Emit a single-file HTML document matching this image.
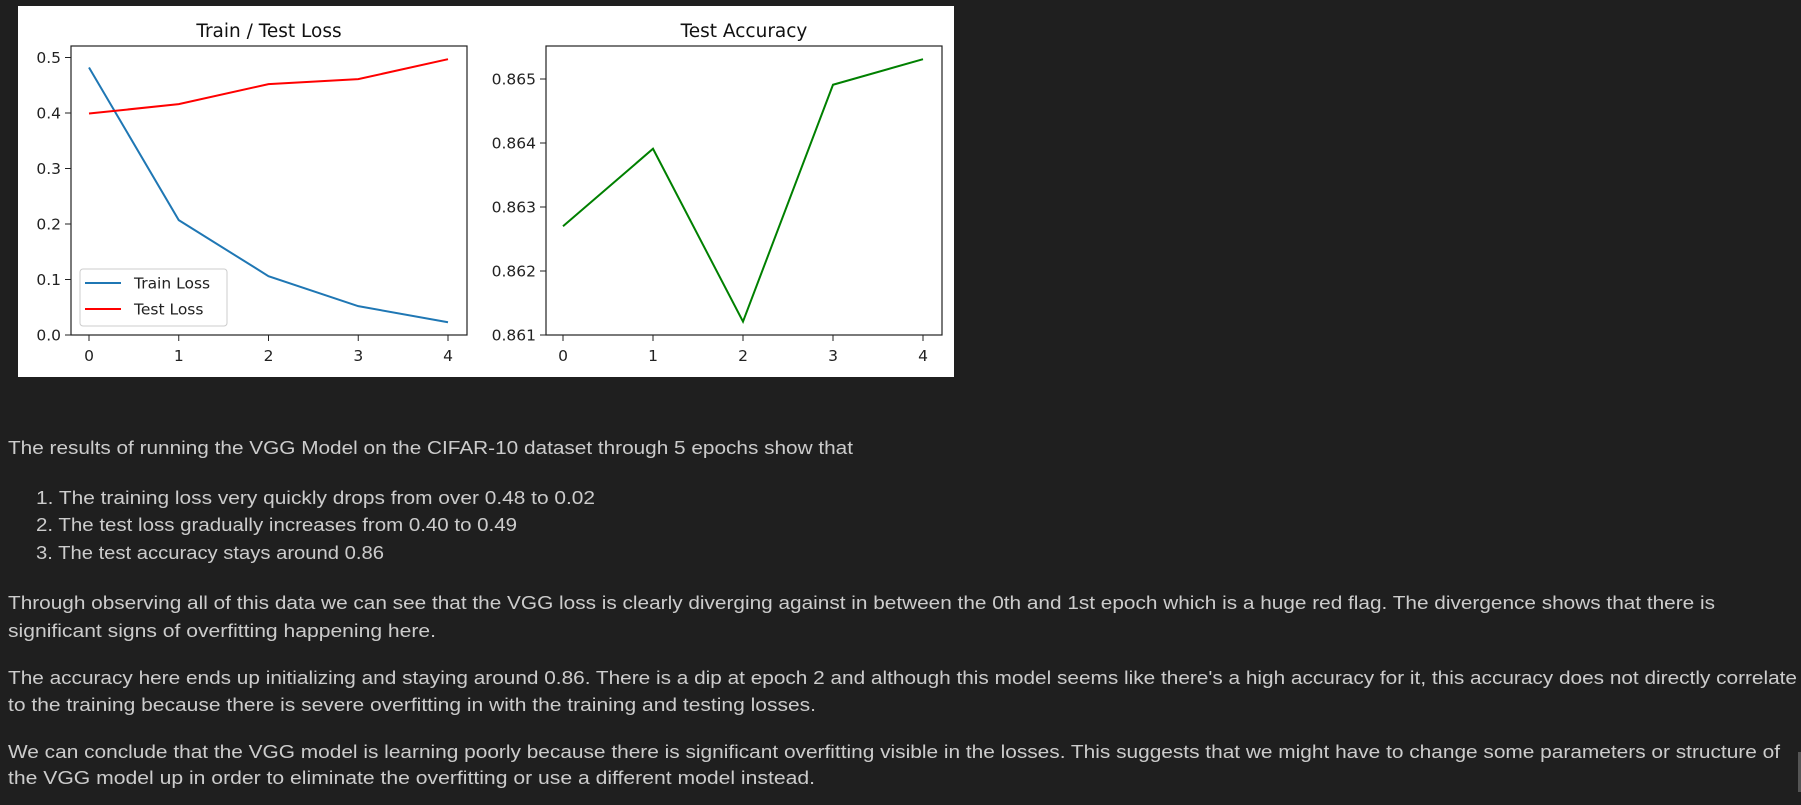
<!DOCTYPE html>
<html><head><meta charset="utf-8">
<style>
html,body{margin:0;padding:0;background:#1f1f1f;width:1801px;height:805px;overflow:hidden}
#fig{position:absolute;left:18px;top:6px;width:936px;height:371px;background:#fff}
svg{position:absolute;left:0;top:0}
.txt{position:absolute;left:8px;white-space:nowrap;color:#cccccc;font-family:"Liberation Sans",sans-serif;font-size:18px;transform-origin:0 0;line-height:1}
</style></head>
<body>
<div id="fig"></div>
<svg id="chart" width="1801" height="400" font-family="DejaVu Sans, sans-serif"></svg>
<div class="txt" data-w="845" style="top:439px">The results of running the VGG Model on the CIFAR-10 dataset through 5 epochs show that</div>
<div class="txt" data-w="559" style="left:36px;top:489px">1. The training loss very quickly drops from over 0.48 to 0.02</div>
<div class="txt" data-w="481" style="left:36px;top:516px">2. The test loss gradually increases from 0.40 to 0.49</div>
<div class="txt" data-w="348" style="left:36px;top:544px">3. The test accuracy stays around 0.86</div>
<div class="txt" data-w="1707" style="top:594px">Through observing all of this data we can see that the VGG loss is clearly diverging against in between the 0th and 1st epoch which is a huge red flag. The divergence shows that there is</div>
<div class="txt" data-w="428" style="top:622px">significant signs of overfitting happening here.</div>
<div class="txt" data-w="1789" style="top:669px">The accuracy here ends up initializing and staying around 0.86. There is a dip at epoch 2 and although this model seems like there's a high accuracy for it, this accuracy does not directly correlate</div>
<div class="txt" data-w="808" style="top:696px">to the training because there is severe overfitting in with the training and testing losses.</div>
<div class="txt" data-w="1772" style="top:743px">We can conclude that the VGG model is learning poorly because there is significant overfitting visible in the losses. This suggests that we might have to change some parameters or structure of</div>
<div class="txt" data-w="807" style="top:769px">the VGG model up in order to eliminate the overfitting or use a different model instead.</div>
<div style="position:absolute;left:1798px;top:752px;width:3px;height:40px;background:#555"></div>
<script>
const epochs=[0,1,2,3,4];
const trainLoss=[0.482,0.207,0.106,0.052,0.023];
const testLoss=[0.399,0.416,0.452,0.461,0.497];
const testAcc=[0.8627,0.86391,0.86121,0.86491,0.86531];
const lossTicks=[0.0,0.1,0.2,0.3,0.4,0.5];
const lossTickLabels=["0.0","0.1","0.2","0.3","0.4","0.5"];
const accTicks=[0.861,0.862,0.863,0.864,0.865];
const accTickLabels=["0.861","0.862","0.863","0.864","0.865"];
const xTickLabels=["0","1","2","3","4"];

const NS="http://www.w3.org/2000/svg";
const svg=document.getElementById('chart');
function mk(tag,attrs,parent){const e=document.createElementNS(NS,tag);for(const k in attrs)e.setAttribute(k,attrs[k]);(parent||svg).appendChild(e);return e;}

function drawAxes(o){
  const g=mk('g',{});
  
  
  const xS=v=>o.x0+(v-0)*o.xu;
  const yS=v=>o.yBase-(v-o.vBase)*o.yu;
  const t=mk('text',{x:(o.left+o.right)/2,y:37,'text-anchor':'middle','font-size':'18.5',fill:'#111'},g);
  t.textContent=o.title;
  
  
  o.yticks.forEach((v,i)=>{
    const y=yS(v);
    mk('line',{x1:o.left-6,x2:o.left,y1:y,y2:y,stroke:'#222','stroke-width':1},g);
    const tl=mk('text',{x:o.left-10,y:y+5.5,'text-anchor':'end','font-size':'15.5',fill:'#222'},g);
    tl.textContent=o.ytl[i];
    
    
  });
  epochs.forEach((v,i)=>{
    const x=xS(v);
    mk('line',{x1:x,x2:x,y1:o.bottom,y2:o.bottom+6,stroke:'#222','stroke-width':1},g);
    const tl=mk('text',{x:x,y:o.bottom+26,'text-anchor':'middle','font-size':'15.5',fill:'#222'},g);
    tl.textContent=xTickLabels[i];
    
    
  });
  o.series.forEach(s=>{
    const p=mk('polyline',{points:s.vals.map((v,i)=>xS(epochs[i])+','+yS(v)).join(' '),fill:'none',stroke:s.color,'stroke-width':2},g);
    
    
  });
  const r=mk('rect',{x:o.left,y:o.top,width:o.right-o.left,height:o.bottom-o.top,fill:'none',stroke:'#222','stroke-width':1.2},g);
  
  
  return g;
}
drawAxes({name:'loss-chart',title:'Train / Test Loss',left:71,right:467,top:46,bottom:335,x0:89,xu:89.75,yBase:335,vBase:0,yu:555,yticks:lossTicks,ytl:lossTickLabels,
  series:[{name:'train-loss-line',vals:trainLoss,color:'#1f77b4'},{name:'test-loss-line',vals:testLoss,color:'#ff0000'}]});
drawAxes({name:'accuracy-chart',title:'Test Accuracy',left:546,right:942,top:46,bottom:335,x0:563,xu:90,yBase:335,vBase:0.861,yu:64000,yticks:accTicks,ytl:accTickLabels,
  series:[{name:'test-accuracy-line',vals:testAcc,color:'#008000'}]});

const lg=mk('g',{});


mk('rect',{x:80,y:269,width:147,height:57,rx:3,fill:'#fff',stroke:'#ccc','stroke-width':1},lg);
[['Train Loss','#1f77b4',283],['Test Loss','#ff0000',309]].forEach(d=>{
  const e=mk('g',{},lg);
  
  
  mk('line',{x1:85,x2:121,y1:d[2],y2:d[2],stroke:d[1],'stroke-width':2},e);
  const t=mk('text',{x:134,y:d[2]+5.5,'font-size':'15.5',fill:'#222'},e);
  t.textContent=d[0];
});

document.querySelectorAll('.txt').forEach(el=>{
  const w=+el.getAttribute('data-w');const a=el.getBoundingClientRect().width;
  if(a>0)el.style.transform='scaleX('+(w/a)+')';
});
</script>
</body></html>
